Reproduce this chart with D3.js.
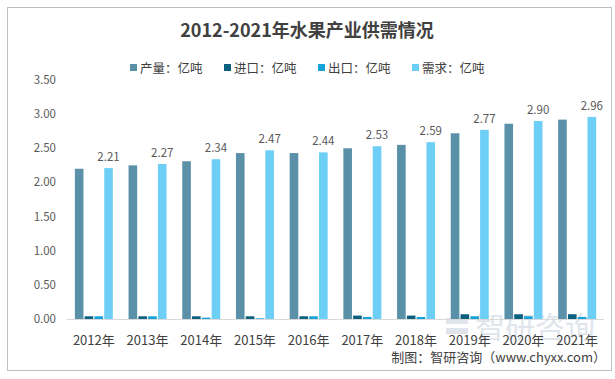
<!DOCTYPE html>
<html><head><meta charset="utf-8">
<script src="https://cdn.jsdelivr.net/npm/d3@7"></script>
<style>body{margin:0;background:#fff}svg{display:block}text{font-family:"Noto Sans CJK SC","Noto Sans",sans-serif}</style>
</head><body>
<script>
const years = ["2012年","2013年","2014年","2015年","2016年","2017年","2018年","2019年","2020年","2021年"];
const production = [2.20,2.25,2.31,2.43,2.43,2.50,2.55,2.72,2.86,2.92];
const imports    = [0.04,0.04,0.04,0.04,0.04,0.05,0.05,0.07,0.07,0.07];
const exports_   = [0.04,0.04,0.02,0.01,0.04,0.03,0.03,0.04,0.04,0.03];
const demand     = [2.21,2.27,2.34,2.47,2.44,2.53,2.59,2.77,2.90,2.96];
const seriesNames = ["产量：亿吨","进口：亿吨","出口：亿吨","需求：亿吨"];
const colors = ["#5B91A8","#0B6080","#15A3D9","#6DCFF6"];
const yTicks = [0,0.5,1,1.5,2,2.5,3,3.5];

const W=615,H=379;
const svg=d3.select("body").append("svg").attr("width",W).attr("height",H);
svg.append("rect").attr("x",7.5).attr("y",7.5).attr("width",604).attr("height",363)
  .attr("fill","#fff").attr("stroke","#bfbfbf").attr("stroke-width",1);

const x=d3.scaleBand().domain(years).range([67,604]);
const y=d3.scaleLinear().domain([0,3.5]).range([319,80]);
const series=[production,imports,exports_,demand];
const inner=d3.scaleBand().domain(d3.range(4)).range([0,38]).paddingInner(0.12);
const off=(x.bandwidth()-38)/2;

// y labels
svg.append("g").selectAll("text").data(yTicks).join("text")
  .attr("x",56).attr("y",d=>y(d)).attr("dy","0.35em").attr("text-anchor","end")
  .attr("font-size",11.5).attr("fill","#595959").text(d=>d.toFixed(2));

// watermark
const wm=svg.append("g").attr("opacity",0.3);
wm.append("text").attr("x",475).attr("y",338).attr("font-size",30).attr("fill","#9aa8bf")
  .text("智研咨询");
wm.append("rect").attr("x",446).attr("y",318).attr("width",22).attr("height",6).attr("fill","#9aa8bf");
wm.append("rect").attr("x",446).attr("y",328).attr("width",22).attr("height",6).attr("fill","#9aa8bf");

// bars
series.forEach((vals,si)=>{
  svg.append("g").selectAll("rect").data(vals).join("rect")
    .attr("x",(d,i)=>x(years[i])+off+inner(si)).attr("width",inner.bandwidth())
    .attr("y",d=>y(d)).attr("height",d=>y(0)-y(d)).attr("fill",colors[si]);
});

// axis line
svg.append("line").attr("x1",67).attr("x2",604).attr("y1",319.5).attr("y2",319.5)
  .attr("stroke","#d9d9d9").attr("stroke-width",1);

// demand labels
svg.append("g").selectAll("text").data(demand).join("text")
  .attr("x",(d,i)=>x(years[i])+off+inner(3)+inner.bandwidth()/2)
  .attr("y",d=>y(d)-7).attr("text-anchor","middle").attr("font-size",11.5)
  .attr("fill","#595959").text(d=>d.toFixed(2));

// x labels
svg.append("g").selectAll("text").data(years).join("text")
  .attr("x",d=>x(d)+x.bandwidth()/2).attr("y",345).attr("text-anchor","middle")
  .attr("font-size",13).attr("fill","#404040").text(d=>d);

// title
svg.append("text").attr("x",307).attr("y",37).attr("text-anchor","middle")
  .attr("font-size",18).attr("font-weight","bold").attr("fill","#404040")
  .text("2012-2021年水果产业供需情况");

// legend
const lx=[130,224,318,412];
seriesNames.forEach((n,i)=>{
  svg.append("rect").attr("x",lx[i]).attr("y",64).attr("width",7).attr("height",7).attr("fill",colors[i]);
  svg.append("text").attr("x",lx[i]+10).attr("y",72.5).attr("font-size",12.5).attr("fill","#404040").text(n);
});

// source
svg.append("text").attr("x",606).attr("y",362).attr("text-anchor","end")
  .attr("font-size",13).attr("fill","#404040").text("制图：智研咨询（www.chyxx.com）");
</script>
</body></html>
